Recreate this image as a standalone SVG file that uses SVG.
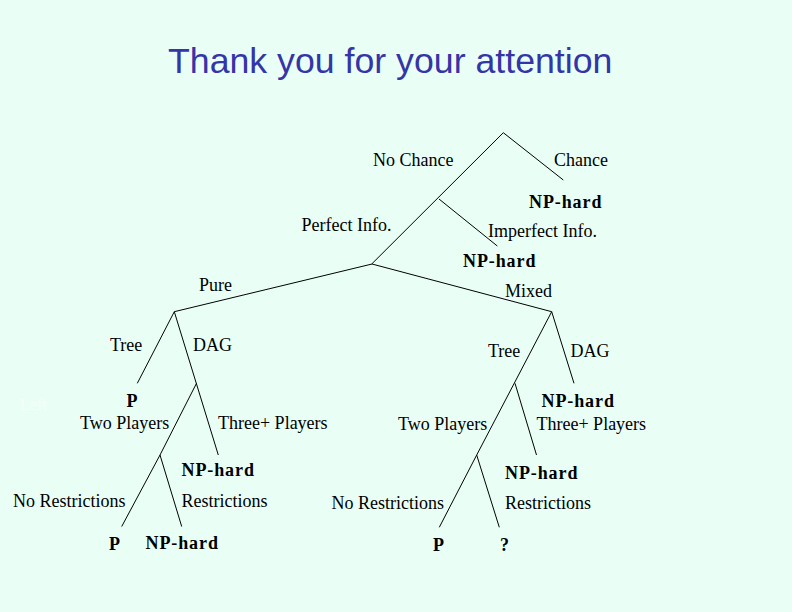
<svg xmlns="http://www.w3.org/2000/svg" width="792" height="612" viewBox="0 0 792 612">
<style>
.t{font-family:"Liberation Serif","Times New Roman",serif;font-size:18px;fill:#000}
.b{font-family:"Liberation Serif","Times New Roman",serif;font-size:18px;font-weight:bold;fill:#000;letter-spacing:0.9px}
.e{stroke:#000;stroke-width:1;fill:none}
.title{font-family:"Liberation Sans",Arial,sans-serif;font-size:35.7px;fill:#3535A8}
</style>
<rect width="792" height="612" fill="#E9FFF5"/>
<text class="title" x="168" y="73">Thank you for your attention</text>
<g id="connectors">
<polyline class="e" points="563.3,180 503.3,132.7 371.7,264"/>
<line class="e" x1="439" y1="199" x2="497.3" y2="246"/>
<polyline class="e" points="174.3,311.7 372,264 551.7,311.7"/>
<line class="e" x1="174.3" y1="311.7" x2="137.3" y2="383.3"/>
<line class="e" x1="174.3" y1="311.7" x2="218.3" y2="455"/>
<line class="e" x1="196.5" y1="383.3" x2="160" y2="455"/>
<line class="e" x1="160" y1="455" x2="121.7" y2="526.5"/>
<line class="e" x1="160" y1="455" x2="181.7" y2="526.5"/>
<line class="e" x1="551.7" y1="311.7" x2="476.7" y2="455"/>
<line class="e" x1="551.7" y1="311.7" x2="574" y2="383.3"/>
<line class="e" x1="515" y1="383.3" x2="536.5" y2="455"/>
<line class="e" x1="476.7" y1="455" x2="439.3" y2="527.3"/>
<line class="e" x1="476.7" y1="455" x2="499.3" y2="527.3"/>
</g>
<g id="root">
<text class="t" x="373" y="166">No Chance</text>
<text class="t" x="554" y="166">Chance</text>
<text class="b" x="529" y="208">NP-hard</text>
</g>
<g id="info">
<text class="t" x="301.5" y="231">Perfect Info.</text>
<text class="t" x="488" y="237">Imperfect Info.</text>
<text class="b" x="463" y="267">NP-hard</text>
</g>
<g id="strategy">
<text class="t" x="199" y="291">Pure</text>
<text class="t" x="505" y="297">Mixed</text>
</g>
<g id="pure">
<text class="t" x="110" y="351">Tree</text>
<text class="t" x="193" y="351">DAG</text>
<text x="20" y="410" style="font-family:'Liberation Serif',serif;font-size:16px;fill:#F6FFFB">Left</text>
<text class="b" x="126.5" y="407">P</text>
<text class="t" x="80" y="429">Two Players</text>
<text class="t" x="218" y="429">Three+ Players</text>
<text class="b" x="181.5" y="476">NP-hard</text>
<text class="t" x="13" y="507">No Restrictions</text>
<text class="t" x="181.5" y="507">Restrictions</text>
<text class="b" x="109" y="550">P</text>
<text class="b" x="145.5" y="548.5">NP-hard</text>
</g>
<g id="mixed">
<text class="t" x="488" y="357">Tree</text>
<text class="t" x="570.5" y="357">DAG</text>
<text class="b" x="541.5" y="407">NP-hard</text>
<text class="t" x="398" y="430">Two Players</text>
<text class="t" x="536.5" y="430">Three+ Players</text>
<text class="b" x="505" y="478.5">NP-hard</text>
<text class="t" x="331.5" y="508.5">No Restrictions</text>
<text class="t" x="505" y="508.5">Restrictions</text>
<text class="b" x="433" y="551">P</text>
<text class="b" x="500" y="551">?</text>
</g>
</svg>
